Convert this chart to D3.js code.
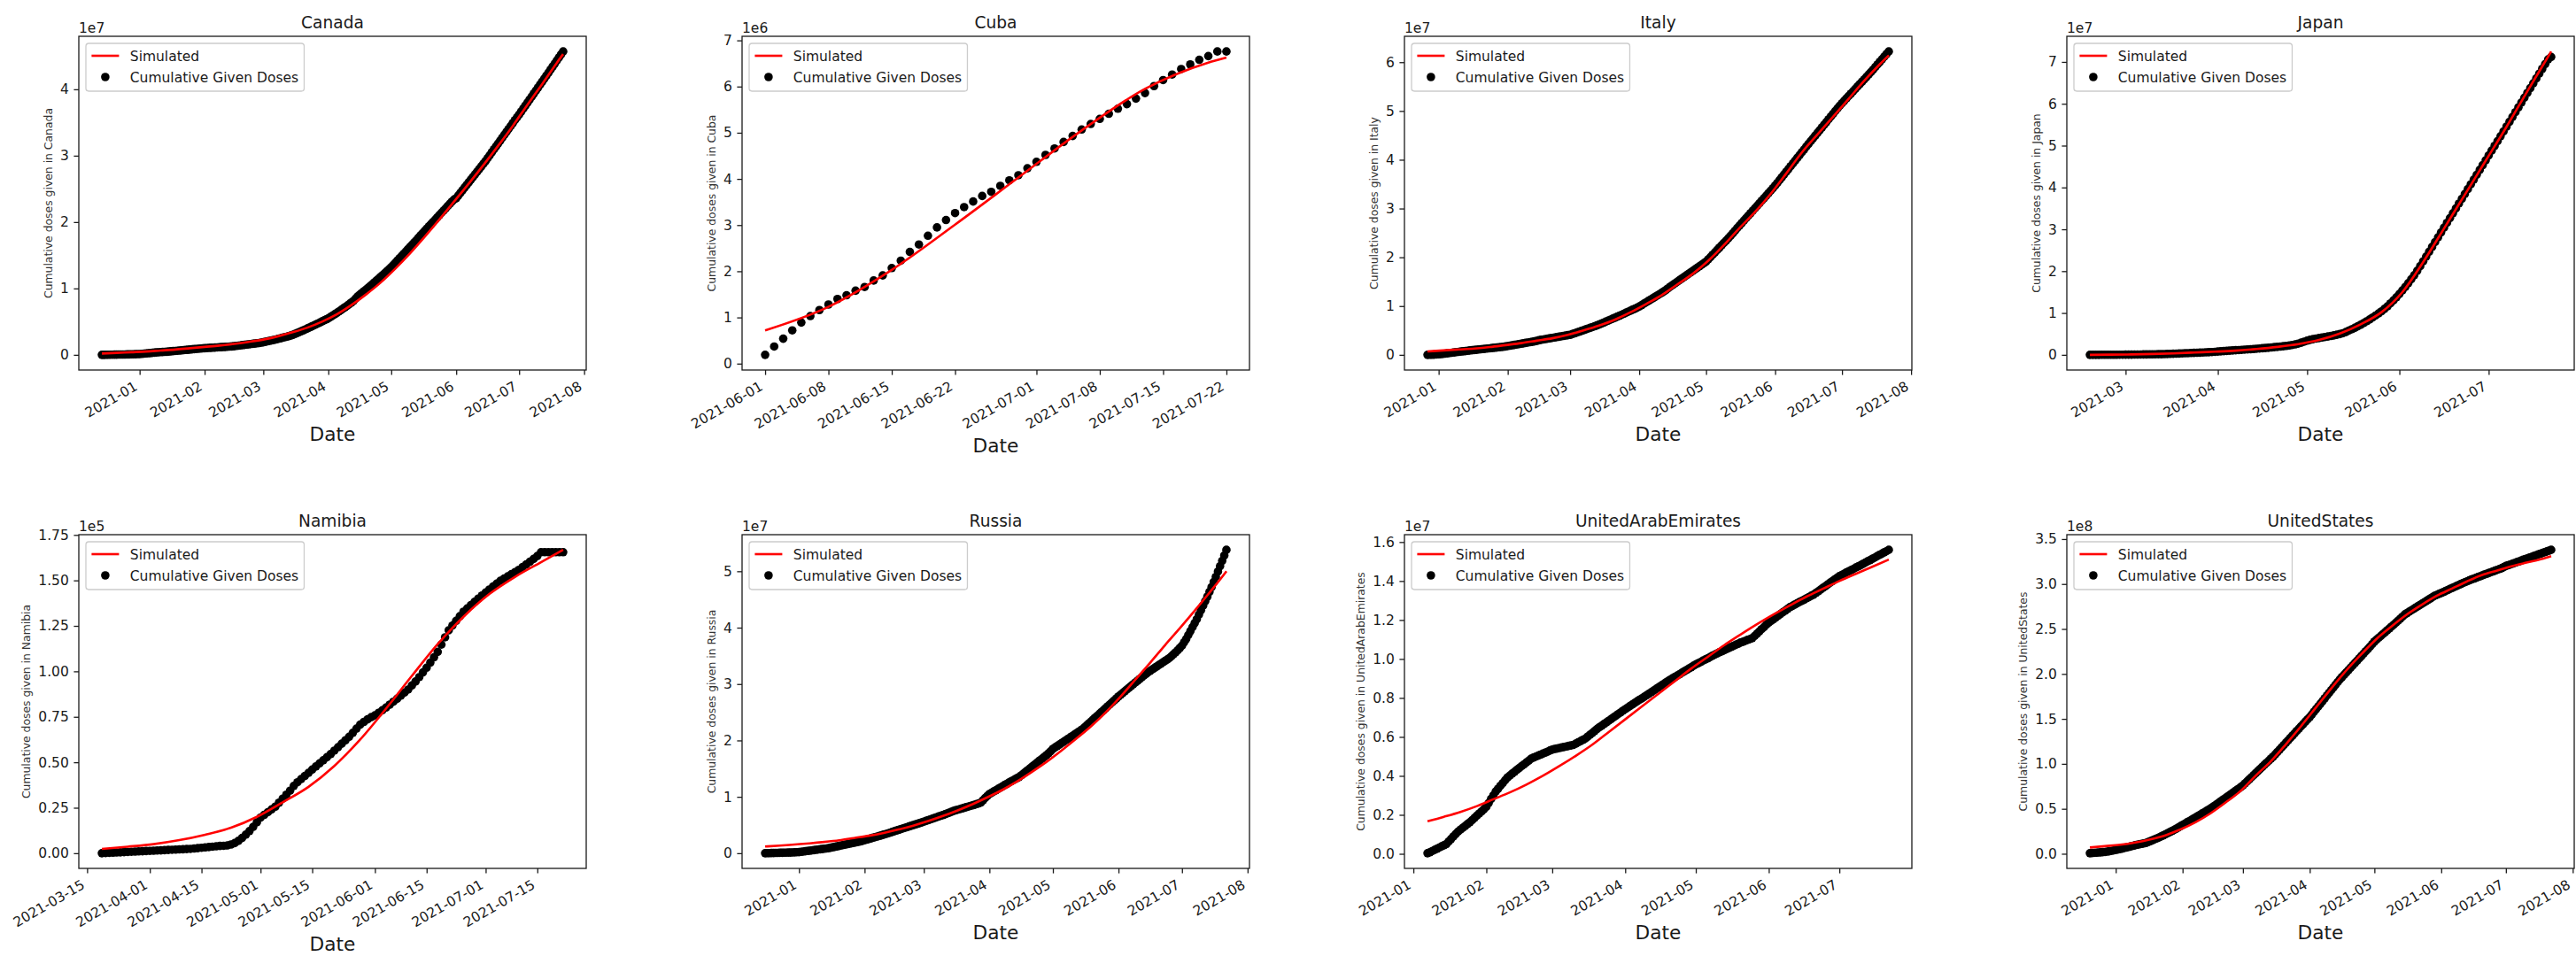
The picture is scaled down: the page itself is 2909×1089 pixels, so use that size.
<!DOCTYPE html>
<html>
<head>
<meta charset="utf-8">
<script src="https://cdn.jsdelivr.net/npm/d3@7"></script>
<style>
  body { margin: 0; background: #fff; }
  svg { display: block; }
  text { font-family: "DejaVu Sans", sans-serif; }
</style>
</head>
<body>
<svg id="chart" width="2909" height="1089"></svg>
<script>
// ---------------- DATA ----------------
const countries = ["Canada", "Cuba", "Italy", "Japan", "Namibia", "Russia", "UnitedArabEmirates", "UnitedStates"];
// first date of the daily observed series (one value per day)
const obsStart = ["2020-12-14", "2021-06-01", "2020-12-27", "2021-02-17", "2021-03-19", "2020-12-16", "2021-01-07", "2020-12-20"];
// simulated series: one value every 7 days from obsStart, last value on the final observed day
const simStepDays = 7;
// values are in units of 10^exponent (the axis offset text)
const yExponent = [7, 6, 7, 7, 5, 7, 7, 8];

const canadaObs = [0.000,0.000,0.001,0.001,0.002,0.002,0.003,0.003,0.004,0.004,0.005,0.005,0.006,0.007,0.008,0.009,0.010,0.011,
0.012,0.015,0.018,0.021,0.024,0.027,0.030,0.033,0.036,0.039,0.041,0.043,0.045,0.047,0.050,0.053,0.056,0.059,0.062,0.065,0.068,0.071,0.074,0.077,0.080,0.083,0.086,0.089,0.092,0.095,0.098,
0.100,0.102,0.104,0.106,0.108,0.110,0.112,0.114,0.116,0.118,0.120,0.122,0.124,0.126,0.130,0.134,0.138,0.142,0.146,0.150,0.154,0.158,0.162,0.166,0.170,0.174,0.178,0.184,
0.190,0.197,0.204,0.211,0.218,0.225,0.232,0.240,0.248,0.256,0.264,0.272,0.280,0.290,0.300,0.313,0.326,0.340,0.354,0.368,0.382,0.397,0.412,0.427,0.442,0.457,0.472,0.487,0.503,0.519,0.535,
0.550,0.570,0.590,0.610,0.630,0.652,0.674,0.696,0.718,0.740,0.764,0.788,0.812,0.846,0.880,0.906,0.932,0.958,0.984,1.010,1.036,1.064,1.092,1.120,1.148,1.176,1.204,1.232,1.262,1.290,
1.320,1.354,1.388,1.422,1.456,1.490,1.524,1.558,1.592,1.626,1.660,1.694,1.728,1.764,1.800,1.834,1.868,1.902,1.936,1.970,2.004,2.038,2.072,2.106,2.140,2.174,2.208,2.242,2.276,2.310,2.340,
2.360,2.400,2.440,2.480,2.520,2.560,2.600,2.640,2.680,2.720,2.760,2.800,2.840,2.880,2.920,2.964,3.008,3.052,3.096,3.140,3.184,3.228,3.272,3.316,3.360,3.404,3.448,3.492,3.536,3.578,
3.620,3.665,3.710,3.755,3.800,3.845,3.890,3.935,3.980,4.025,4.070,4.115,4.160,4.205,4.250,4.296,4.342,4.388,4.434,4.480,4.525,4.570];
const canadaSim = [0.02,0.03,0.04,0.05,0.065,0.08,0.10,0.12,0.14,0.165,0.195,0.23,0.28,0.34,0.41,0.50,0.61,0.75,0.91,1.09,1.30,1.53,1.78,2.04,2.31,2.58,2.86,3.15,3.45,3.77,4.08,4.40,4.53];

const cubaObs = [0.19,0.37,0.54,0.72,0.89,1.03,1.16,1.28,1.40,1.48,1.58,1.66,1.80,1.91,2.07,2.23,2.42,2.58,2.77,2.95,3.11,3.26,3.39,3.51,3.63,3.72,3.85,3.97,4.08,4.23,
4.37,4.52,4.66,4.80,4.93,5.07,5.19,5.30,5.41,5.52,5.62,5.74,5.86,6.01,6.14,6.26,6.38,6.48,6.58,6.66,6.76,6.76];
const cubaSim = [0.72,1.23,2.03,3.01,4.03,5.05,5.95,6.52,6.63];

const italyObs = [0.000,0.001,0.002,0.004,0.007,
0.010,0.015,0.020,0.026,0.032,0.038,0.044,0.050,0.056,0.062,0.067,0.072,0.077,0.083,0.090,0.095,0.100,0.105,0.110,0.115,0.120,0.125,0.130,0.135,0.140,0.145,0.150,0.155,0.160,0.165,0.172,
0.180,0.188,0.196,0.204,0.212,0.220,0.228,0.236,0.244,0.252,0.260,0.268,0.276,0.286,0.300,0.308,0.316,0.324,0.332,0.340,0.348,0.356,0.364,0.372,0.380,0.388,0.396,0.403,
0.410,0.426,0.442,0.458,0.474,0.490,0.506,0.522,0.538,0.554,0.570,0.586,0.604,0.622,0.640,0.660,0.680,0.700,0.720,0.740,0.760,0.780,0.800,0.820,0.841,0.862,0.883,0.904,0.925,0.946,0.968,
0.990,1.018,1.046,1.074,1.102,1.130,1.158,1.186,1.214,1.242,1.270,1.300,1.330,1.364,1.400,1.432,1.464,1.496,1.528,1.560,1.592,1.624,1.656,1.688,1.720,1.752,1.784,1.816,1.848,1.880,
1.910,1.958,2.006,2.054,2.102,2.150,2.198,2.246,2.294,2.342,2.390,2.440,2.490,2.545,2.600,2.651,2.702,2.753,2.804,2.855,2.906,2.957,3.008,3.059,3.110,3.161,3.212,3.263,3.314,3.365,3.417,
3.470,3.527,3.584,3.641,3.698,3.755,3.812,3.869,3.926,3.983,4.040,4.097,4.154,4.212,4.270,4.326,4.382,4.438,4.494,4.550,4.606,4.662,4.718,4.774,4.830,4.886,4.942,4.998,5.054,5.107,
5.160,5.209,5.258,5.307,5.356,5.405,5.454,5.503,5.552,5.601,5.650,5.700,5.750,5.800,5.850,5.903,5.956,6.009,6.062,6.115,6.168,6.220];
const italySim = [0.07,0.09,0.11,0.13,0.16,0.20,0.24,0.29,0.34,0.41,0.50,0.60,0.72,0.87,1.04,1.22,1.44,1.66,1.93,2.25,2.60,2.93,3.30,3.72,4.15,4.52,4.88,5.25,5.62,5.96,6.14];

const japanObs = [0.000,0.000,0.000,0.000,0.001,0.001,0.001,0.002,0.002,0.002,0.003,0.003,
0.004,0.005,0.006,0.007,0.008,0.009,0.010,0.011,0.012,0.013,0.014,0.015,0.016,0.018,0.020,0.023,0.026,0.029,0.032,0.035,0.038,0.041,0.044,0.047,0.050,0.053,0.056,0.059,0.063,0.067,0.072,
0.080,0.085,0.090,0.095,0.100,0.105,0.110,0.115,0.120,0.125,0.130,0.135,0.140,0.146,0.152,0.158,0.164,0.170,0.177,0.184,0.191,0.198,0.206,0.214,0.224,0.236,0.250,0.268,0.290,0.315,
0.340,0.360,0.376,0.390,0.402,0.414,0.426,0.438,0.451,0.465,0.480,0.497,0.516,0.545,0.580,0.612,0.646,0.682,0.720,0.760,0.802,0.846,0.892,0.940,0.990,1.040,1.100,1.160,1.230,1.300,1.375,
1.455,1.540,1.625,1.715,1.810,1.905,2.010,2.120,2.235,2.350,2.465,2.580,2.695,2.810,2.925,3.040,3.155,3.270,3.385,3.500,3.615,3.730,3.845,3.960,4.075,4.190,4.305,4.420,4.535,4.650,
4.765,4.880,4.995,5.110,5.225,5.340,5.455,5.570,5.685,5.800,5.915,6.030,6.145,6.260,6.375,6.490,6.605,6.720,6.835,6.950,7.060,7.120];
const japanSim = [0.000,0.005,0.010,0.020,0.035,0.055,0.075,0.100,0.140,0.190,0.255,0.355,0.510,0.730,1.020,1.500,2.220,3.020,3.830,4.640,5.450,6.300,7.130,7.250];

const namibiaObs = [0.000,0.001,0.002,0.003,0.004,0.005,0.006,0.007,0.008,0.009,0.010,0.011,0.012,
0.013,0.014,0.015,0.016,0.017,0.018,0.019,0.020,0.021,0.022,0.023,0.024,0.026,0.028,0.030,0.032,0.034,0.036,0.038,0.040,0.041,0.043,0.048,0.056,0.068,0.084,0.102,0.122,0.145,0.170,
0.196,0.211,0.226,0.241,0.256,0.278,0.300,0.322,0.344,0.370,0.390,0.408,0.425,0.442,0.460,0.477,0.494,0.511,0.528,0.545,0.564,0.583,0.602,0.621,0.640,0.662,0.685,0.707,0.722,0.736,0.748,
0.758,0.772,0.786,0.801,0.817,0.833,0.849,0.866,0.883,0.900,0.922,0.944,0.968,0.994,1.020,1.048,1.077,1.107,1.147,1.187,1.226,1.252,1.278,1.303,1.328,1.346,1.364,1.382,1.400,1.417,
1.433,1.450,1.466,1.482,1.498,1.510,1.522,1.534,1.546,1.558,1.573,1.588,1.603,1.618,1.634,1.655,1.655,1.655,1.655,1.655,1.655,1.655];
const namibiaSim = [0.024,0.036,0.050,0.072,0.102,0.140,0.200,0.280,0.365,0.480,0.625,0.795,0.975,1.150,1.300,1.425,1.520,1.600,1.668];

const russiaObs = [0.000,0.001,0.002,0.003,0.004,0.005,0.006,0.007,0.008,0.009,0.010,0.011,0.012,0.014,0.016,0.018,
0.020,0.025,0.030,0.035,0.040,0.045,0.050,0.055,0.060,0.065,0.070,0.075,0.080,0.085,0.090,0.098,0.106,0.114,0.122,0.130,0.138,0.146,0.154,0.162,0.170,0.178,0.186,0.194,0.202,0.210,0.220,
0.230,0.241,0.252,0.263,0.274,0.285,0.296,0.307,0.318,0.329,0.340,0.352,0.364,0.376,0.390,0.402,0.414,0.426,0.438,0.450,0.462,0.474,0.486,0.498,0.510,0.522,0.534,0.547,
0.560,0.573,0.586,0.599,0.612,0.625,0.638,0.651,0.664,0.677,0.690,0.705,0.720,0.735,0.750,0.761,0.772,0.783,0.794,0.805,0.816,0.827,0.838,0.849,0.860,0.872,0.884,0.900,0.940,0.980,1.015,
1.050,1.072,1.094,1.116,1.138,1.160,1.182,1.204,1.226,1.248,1.270,1.290,1.310,1.330,1.350,1.380,1.410,1.440,1.470,1.500,1.530,1.560,1.590,1.620,1.650,1.680,1.710,1.740,1.775,1.810,
1.850,1.875,1.900,1.925,1.950,1.975,2.000,2.025,2.050,2.075,2.100,2.125,2.150,2.175,2.200,2.234,2.268,2.302,2.336,2.370,2.404,2.438,2.472,2.506,2.540,2.574,2.608,2.642,2.676,2.710,2.745,
2.780,2.811,2.842,2.873,2.904,2.935,2.966,2.997,3.028,3.059,3.090,3.120,3.150,3.180,3.210,3.235,3.260,3.285,3.310,3.335,3.360,3.385,3.410,3.435,3.460,3.494,3.528,3.562,3.600,3.640,
3.680,3.740,3.800,3.870,3.940,4.010,4.080,4.150,4.230,4.310,4.390,4.470,4.550,4.635,4.720,4.810,4.900,4.995,5.090,5.185,5.280,5.380];
const russiaSim = [0.12,0.135,0.155,0.175,0.20,0.23,0.27,0.31,0.36,0.42,0.49,0.57,0.66,0.76,0.87,0.99,1.12,1.27,1.44,1.62,1.82,2.03,2.25,2.50,2.78,3.08,3.38,3.69,3.99,4.30,4.62,4.95,5.00];

const uaeObs = [0.003,0.008,0.014,0.020,0.026,0.032,0.038,0.044,0.050,0.063,0.076,0.089,0.102,0.114,0.124,0.134,0.143,0.153,0.162,0.173,0.185,0.196,0.207,0.218,0.229,
0.241,0.261,0.281,0.300,0.320,0.334,0.349,0.363,0.378,0.392,0.402,0.412,0.421,0.431,0.440,0.450,0.459,0.469,0.478,0.488,0.494,0.499,0.504,0.509,0.514,0.519,0.524,0.530,
0.535,0.538,0.540,0.543,0.546,0.548,0.551,0.554,0.556,0.559,0.565,0.572,0.578,0.585,0.591,0.601,0.611,0.620,0.630,0.640,0.649,0.657,0.666,0.674,0.683,0.691,0.700,0.708,0.717,0.725,0.734,
0.742,0.750,0.758,0.766,0.774,0.782,0.790,0.797,0.805,0.813,0.821,0.829,0.837,0.845,0.853,0.861,0.869,0.877,0.885,0.893,0.900,0.907,0.914,0.921,0.929,0.936,0.943,0.950,0.957,0.965,
0.972,0.978,0.984,0.991,0.997,1.003,1.009,1.016,1.022,1.028,1.034,1.039,1.045,1.050,1.056,1.062,1.067,1.073,1.078,1.084,1.088,1.093,1.098,1.102,1.107,1.118,1.130,1.141,1.153,1.164,1.176,
1.187,1.196,1.204,1.213,1.222,1.231,1.240,1.248,1.257,1.266,1.272,1.279,1.285,1.292,1.298,1.304,1.311,1.317,1.324,1.330,1.339,1.347,1.356,1.365,1.373,1.382,1.391,1.399,1.408,1.416,
1.425,1.431,1.437,1.444,1.450,1.456,1.462,1.469,1.475,1.481,1.488,1.494,1.501,1.507,1.514,1.520,1.527,1.534,1.540,1.547,1.553,1.560];
const uaeSim = [0.167,0.190,0.215,0.245,0.280,0.315,0.355,0.400,0.450,0.503,0.560,0.625,0.690,0.755,0.820,0.885,0.950,1.010,1.070,1.125,1.178,1.228,1.275,1.320,1.360,1.400,1.437,1.473,1.510];

const usObs = [0.006,0.008,0.010,0.012,0.014,0.016,0.018,0.020,0.024,0.028,0.032,0.037,
0.042,0.047,0.052,0.058,0.064,0.070,0.076,0.082,0.088,0.094,0.100,0.105,0.110,0.115,0.120,0.130,0.140,0.150,0.160,0.170,0.180,0.192,0.204,0.216,0.228,0.240,0.252,0.264,0.278,0.292,0.306,
0.320,0.334,0.348,0.362,0.376,0.390,0.404,0.418,0.432,0.446,0.460,0.475,0.490,0.505,0.520,0.537,0.554,0.571,0.588,0.605,0.622,0.639,0.656,0.673,0.690,0.707,0.724,0.742,
0.760,0.783,0.806,0.829,0.852,0.875,0.898,0.921,0.944,0.967,0.990,1.012,1.035,1.058,1.080,1.106,1.132,1.158,1.184,1.210,1.236,1.262,1.288,1.314,1.340,1.366,1.392,1.418,1.444,1.470,1.495,
1.520,1.550,1.580,1.610,1.640,1.670,1.700,1.730,1.760,1.790,1.820,1.850,1.880,1.910,1.940,1.966,1.992,2.018,2.044,2.070,2.096,2.122,2.148,2.174,2.200,2.226,2.252,2.278,2.304,2.332,
2.360,2.381,2.402,2.423,2.444,2.465,2.486,2.507,2.528,2.549,2.570,2.592,2.614,2.636,2.660,2.675,2.690,2.705,2.720,2.735,2.750,2.765,2.780,2.795,2.810,2.825,2.840,2.855,2.870,2.880,2.890,
2.900,2.911,2.922,2.933,2.944,2.955,2.966,2.977,2.988,2.999,3.010,3.020,3.030,3.040,3.050,3.059,3.068,3.077,3.086,3.095,3.104,3.113,3.122,3.131,3.140,3.149,3.158,3.167,3.176,3.188,
3.200,3.209,3.217,3.226,3.234,3.243,3.251,3.260,3.269,3.277,3.286,3.294,3.303,3.311,3.320,3.329,3.337,3.346,3.354,3.363,3.371,3.380];
const usSim = [0.07,0.085,0.10,0.125,0.16,0.205,0.27,0.35,0.45,0.57,0.70,0.87,1.03,1.22,1.42,1.63,1.84,2.04,2.22,2.39,2.53,2.66,2.77,2.87,2.95,3.03,3.10,3.15,3.20,3.24,3.28,3.31];

// tick labels
const yTicks = [
  [0, 1, 2, 3, 4],
  [0, 1, 2, 3, 4, 5, 6, 7],
  [0, 1, 2, 3, 4, 5, 6],
  [0, 1, 2, 3, 4, 5, 6, 7],
  [0, 0.25, 0.5, 0.75, 1.0, 1.25, 1.5, 1.75],
  [0, 1, 2, 3, 4, 5],
  [0, 0.2, 0.4, 0.6, 0.8, 1.0, 1.2, 1.4, 1.6],
  [0, 0.5, 1.0, 1.5, 2.0, 2.5, 3.0, 3.5]
];
const yTickDecimals = [0, 0, 0, 0, 2, 0, 1, 1];
const monthTicks = ["2021-01-01", "2021-02-01", "2021-03-01", "2021-04-01", "2021-05-01", "2021-06-01", "2021-07-01", "2021-08-01"];
const cubaTicks = ["2021-06-01", "2021-06-08", "2021-06-15", "2021-06-22", "2021-07-01", "2021-07-08", "2021-07-15", "2021-07-22"];
const japanTicks = ["2021-03-01", "2021-04-01", "2021-05-01", "2021-06-01", "2021-07-01"];
const namibiaTicks = ["2021-03-15", "2021-04-01", "2021-04-15", "2021-05-01", "2021-05-15", "2021-06-01", "2021-06-15", "2021-07-01", "2021-07-15"];
const uaeTicks = ["2021-01-01", "2021-02-01", "2021-03-01", "2021-04-01", "2021-05-01", "2021-06-01", "2021-07-01"];
const xTicks = [monthTicks, cubaTicks, monthTicks, japanTicks, namibiaTicks, monthTicks, uaeTicks, monthTicks];
const xTickFormat = ["%Y-%m", "%Y-%m-%d", "%Y-%m", "%Y-%m", "%Y-%m-%d", "%Y-%m", "%Y-%m", "%Y-%m"];
const legendLabels = ["Simulated", "Cumulative Given Doses"];
const xLabel = "Date";

const obsSeries = [canadaObs, cubaObs, italyObs, japanObs, namibiaObs, russiaObs, uaeObs, usObs];
const simSeries = [canadaSim, cubaSim, italySim, japanSim, namibiaSim, russiaSim, uaeSim, usSim];

// ---------------- LAYOUT ----------------
const colLefts = [89, 838, 1586, 2334];
const rowTops = [41, 604];
const axW = 573, axH = 377;
const FS = 15.5;          // base font (10pt)
const TITLE_FS = 18.6;    // 12pt
const XLABEL_FS = 21.7;   // 14pt
const YLABEL_FS = 12.4;   // 8pt
const TICK_LEN = 5.6, TICK_PAD = 5.6;
const INK = "#1a1a1a";
const DAY = 864e5;
const parse = d3.utcParse("%Y-%m-%d");

const svg = d3.select("#chart");
svg.append("rect").attr("width", 2909).attr("height", 1089).attr("fill", "#fff");

countries.forEach((name, i) => {
  const left = colLefts[i % 4];
  const top = rowTops[Math.floor(i / 4)];
  const t0 = parse(obsStart[i]);
  const obs = obsSeries[i].map((v, k) => ({ date: new Date(+t0 + k * DAY), v }));
  const tEnd = obs[obs.length - 1].date;
  const sim = simSeries[i].map((v, k) => ({ date: new Date(Math.min(+t0 + k * simStepDays * DAY, +tEnd)), v }));

  const span = tEnd - t0;
  const x = d3.scaleUtc()
    .domain([new Date(+t0 - 0.05 * span), new Date(+tEnd + 0.05 * span)])
    .range([left, left + axW]);
  const allV = obsSeries[i].concat(simSeries[i]);
  const lo = d3.min(allV), hi = d3.max(allV), r = hi - lo;
  const y = d3.scaleLinear().domain([lo - 0.05 * r, hi + 0.05 * r]).range([top + axH, top]);

  const clipId = "clip" + i;
  svg.append("clipPath").attr("id", clipId)
    .append("rect").attr("x", left).attr("y", top).attr("width", axW).attr("height", axH);

  const plot = svg.append("g").attr("clip-path", `url(#${clipId})`);
  plot.append("g").selectAll("circle").data(obs).join("circle")
    .attr("cx", d => x(d.date)).attr("cy", d => y(d.v)).attr("r", 4.8).attr("fill", "#000");
  plot.append("path").datum(sim)
    .attr("d", d3.line().x(d => x(d.date)).y(d => y(d.v)).curve(d3.curveMonotoneX))
    .attr("fill", "none").attr("stroke", "#ff0000").attr("stroke-width", 2.6);

  // x axis
  const gx = svg.append("g").attr("transform", `translate(0,${top + axH})`)
    .call(d3.axisBottom(x).tickValues(xTicks[i].map(parse)).tickFormat(d3.utcFormat(xTickFormat[i]))
      .tickSize(TICK_LEN).tickSizeOuter(0));
  gx.select(".domain").remove();
  gx.attr("font-size", FS).attr("font-family", '"DejaVu Sans", sans-serif');
  gx.selectAll(".tick line").attr("stroke", INK).attr("stroke-width", 1.3);
  gx.selectAll(".tick text")
    .attr("x", 0).attr("y", 0).attr("dy", "0.78em")
    .attr("fill", INK).attr("text-anchor", "end")
    .attr("transform", `translate(-8,${TICK_LEN + TICK_PAD}) rotate(-30)`);

  // y axis
  const gy = svg.append("g").attr("transform", `translate(${left},0)`)
    .call(d3.axisLeft(y).tickValues(yTicks[i]).tickFormat(d3.format(`.${yTickDecimals[i]}f`))
      .tickSize(TICK_LEN).tickPadding(TICK_PAD).tickSizeOuter(0));
  gy.select(".domain").remove();
  gy.attr("font-size", FS).attr("font-family", '"DejaVu Sans", sans-serif');
  gy.selectAll(".tick line").attr("stroke", INK).attr("stroke-width", 1.3);
  gy.selectAll(".tick text").attr("fill", INK);

  // frame
  svg.append("rect").attr("x", left).attr("y", top).attr("width", axW).attr("height", axH)
    .attr("fill", "none").attr("stroke", INK).attr("stroke-width", 1.3);

  // title
  svg.append("text").attr("x", left + axW / 2).attr("y", top - 9)
    .attr("text-anchor", "middle").attr("font-size", TITLE_FS).attr("fill", INK).text(name);

  // offset text
  svg.append("text").attr("x", left).attr("y", top - 4)
    .attr("font-size", FS).attr("fill", INK).text("1e" + yExponent[i]);

  // y label
  const yb = gy.node().getBBox();
  const ylx = left + yb.x - 6.4 - 3;
  svg.append("text")
    .attr("transform", `translate(${ylx},${top + axH / 2}) rotate(-90)`)
    .attr("text-anchor", "middle").attr("font-size", YLABEL_FS).attr("fill", "#333")
    .text("Cumulative doses given in " + name);

  // x label
  const xb = gx.node().getBBox();
  const xly = top + axH + xb.y + xb.height + 6.4 + XLABEL_FS * 0.76;
  svg.append("text").attr("x", left + axW / 2).attr("y", xly)
    .attr("text-anchor", "middle").attr("font-size", XLABEL_FS).attr("fill", INK).text(xLabel);

  // legend
  const lg = svg.append("g").attr("transform", `translate(${left + 8},${top + 8})`);
  const frame = lg.append("rect").attr("rx", 3.2).attr("ry", 3.2)
    .attr("fill", "#fff").attr("fill-opacity", 0.8).attr("stroke", "#cccccc").attr("stroke-width", 1.3);
  const pad = 6.4, handleLen = 31, textPad = 12.4;
  const rowY = [14, 38];
  lg.append("line").attr("x1", pad).attr("x2", pad + handleLen).attr("y1", rowY[0]).attr("y2", rowY[0])
    .attr("stroke", "#ff0000").attr("stroke-width", 2.6);
  lg.append("circle").attr("cx", pad + handleLen / 2).attr("cy", rowY[1]).attr("r", 4.8).attr("fill", "#000");
  let maxW = 0;
  legendLabels.forEach((lab, k) => {
    const t = lg.append("text").attr("x", pad + handleLen + textPad).attr("y", rowY[k])
      .attr("dy", "0.36em").attr("font-size", FS).attr("fill", INK).text(lab);
    maxW = Math.max(maxW, t.node().getComputedTextLength());
  });
  frame.attr("x", 0).attr("y", 0).attr("width", pad + handleLen + textPad + maxW + pad).attr("height", 54);
});
</script>
</body>
</html>
